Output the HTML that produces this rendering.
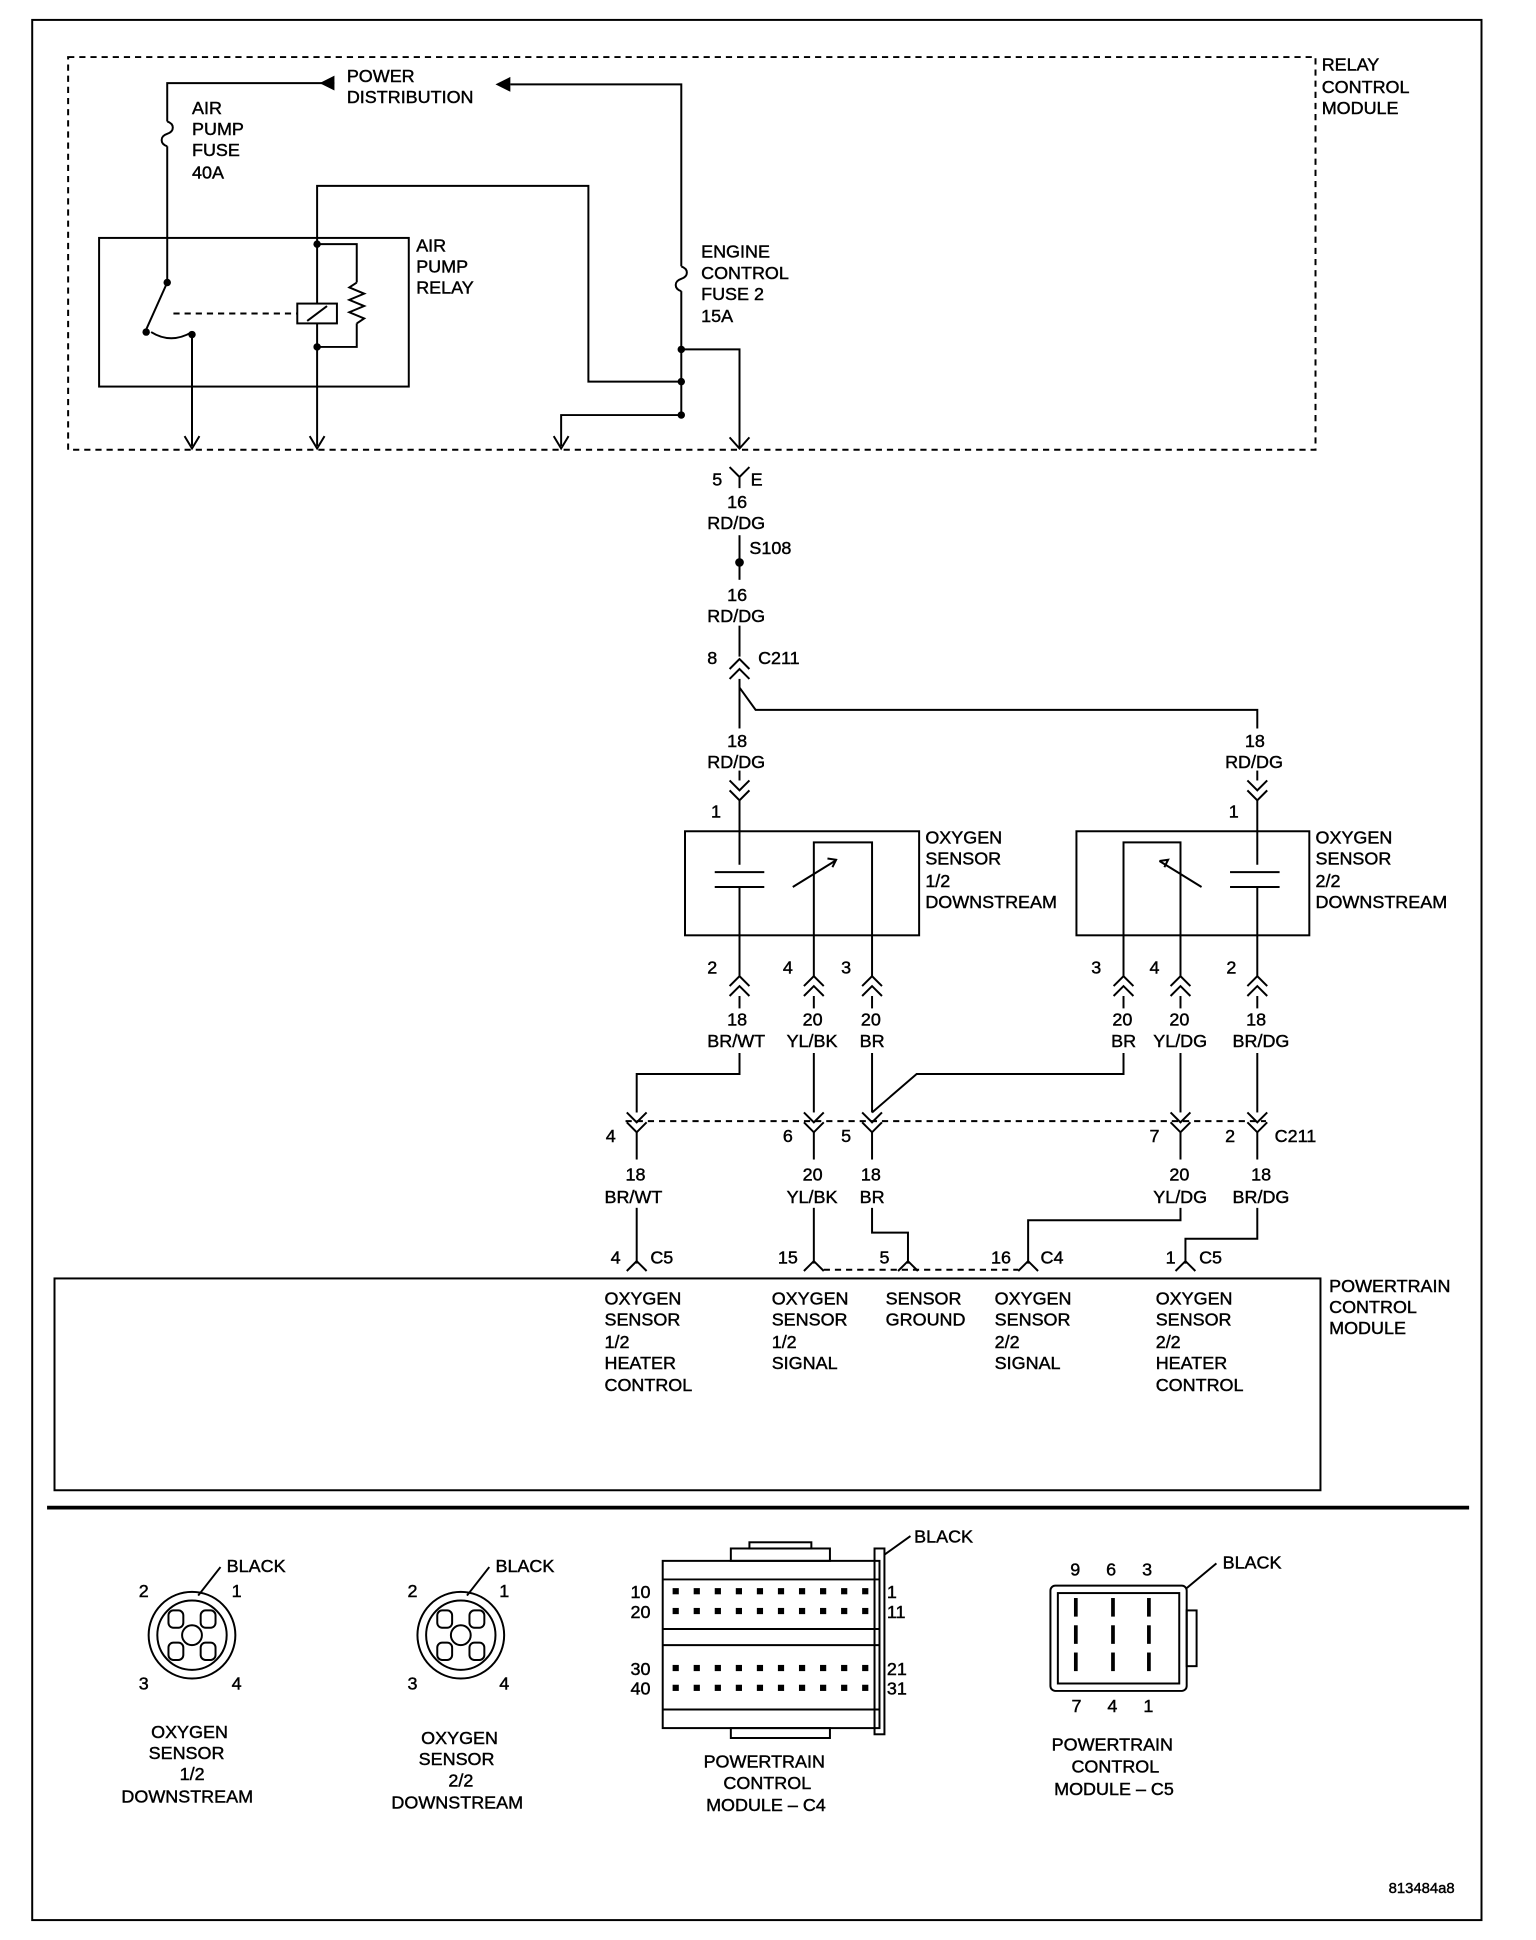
<!DOCTYPE html>
<html><head><meta charset="utf-8"><style>
html,body{margin:0;padding:0;background:#fff;}
svg{display:block;}
text{font-family:"Liberation Sans",Arial,sans-serif;font-size:14.5px;fill:#000;stroke:#000;stroke-width:0.35px;}
</style></head><body>
<svg width="1536" height="1940" viewBox="0 0 1240 1566" xmlns="http://www.w3.org/2000/svg">
<g fill="none" stroke="#000" stroke-width="1.6">
<rect x="26" y="16" width="1170" height="1534"/>
<rect x="55" y="46" width="1007" height="317" stroke-dasharray="5,4"/>
<polyline points="270,67 135,67 135,98"/>
<path d="M135,98 c6,2 6,8 0,10 c-6,2 -6,8 0,10"/>
<polyline points="135,118 135,228"/>
<polyline points="412,68 550,68 550,215"/>
<path d="M550,215 c6,2 6,8 0,10 c-6,2 -6,8 0,10"/>
<polyline points="550,235 550,335 453,335 453,360"/>
<rect x="80" y="192" width="250" height="120"/>
<polyline points="256,197 256,150 475,150 475,308 550,308"/>
<line x1="256" y1="197" x2="256" y2="360"/>
<polyline points="256,197 288,197 288,228"/>
<path d="M288,228 l-6,4 l12,5 l-12,5 l12,5 l-12,5 l12,5 l-6,4"/>
<polyline points="288,261 288,280 256,280"/>
<rect x="240" y="245" width="32" height="16" fill="#fff"/>
<line x1="248" y1="259" x2="264" y2="247"/>
<line x1="135" y1="228" x2="118" y2="266"/>
<line x1="140" y1="253" x2="240" y2="253" stroke-dasharray="5,4"/>
<path d="M122,268 q16,10 33,0"/>
<line x1="155" y1="270" x2="155" y2="360"/>
<polyline points="149,352 155,362 161,352"/>
<polyline points="250,352 256,362 262,352"/>
<polyline points="447,352 453,362 459,352"/>
<polyline points="550,282 597,282 597,362"/>
<polyline points="589,353 597,362 605,353"/>
<polyline points="589,377 597,385 605,377"/>
<line x1="597" y1="385" x2="597" y2="394"/>
<line x1="597" y1="432" x2="597" y2="468"/>
<line x1="597" y1="505" x2="597" y2="530"/>
<polyline points="589,540 597,532 605,540"/><polyline points="589,548 597,540 605,548"/>
<polyline points="597,548 597,588"/>
<line x1="597" y1="622" x2="597" y2="630"/>
<polyline points="597,555 610,573 1015,573 1015,588"/>
<line x1="1015" y1="622" x2="1015" y2="630"/>
<polyline points="589,630 597,638 605,630"/><polyline points="589,638 597,646 605,638"/>
<polyline points="1007,630 1015,638 1023,630"/><polyline points="1007,638 1015,646 1023,638"/>
<line x1="597" y1="646" x2="597" y2="698"/>
<line x1="1015" y1="646" x2="1015" y2="698"/>
<rect x="553" y="671" width="189" height="84"/>
<rect x="869" y="671" width="188" height="84"/>
<line x1="577" y1="704" x2="617" y2="704"/><line x1="577" y1="716" x2="617" y2="716"/>
<polyline points="597,716 597,788"/>
<line x1="993" y1="704" x2="1033" y2="704"/><line x1="993" y1="716" x2="1033" y2="716"/>
<line x1="1015" y1="716" x2="1015" y2="788"/>
<polyline points="657,788 657,680 704,680 704,788"/>
<line x1="640" y1="716" x2="674" y2="695"/>
<polyline points="668,693 675,694 672,700"/>
<polyline points="907,788 907,680 953,680 953,788"/>
<line x1="936" y1="695" x2="970" y2="716"/>
<polyline points="936,695 943,694 940,700"/>
<g>
<polyline points="589,796 597,788 605,796"/><polyline points="589,804 597,796 605,804"/>
<polyline points="649,796 657,788 665,796"/><polyline points="649,804 657,796 665,804"/>
<polyline points="696,796 704,788 712,796"/><polyline points="696,804 704,796 712,804"/>
<polyline points="899,796 907,788 915,796"/><polyline points="899,804 907,796 915,804"/>
<polyline points="945,796 953,788 961,796"/><polyline points="945,804 953,796 961,804"/>
<polyline points="1007,796 1015,788 1023,796"/><polyline points="1007,804 1015,796 1023,804"/>
</g>
<line x1="597" y1="804" x2="597" y2="814"/><line x1="657" y1="804" x2="657" y2="814"/>
<line x1="704" y1="804" x2="704" y2="814"/><line x1="907" y1="804" x2="907" y2="814"/>
<line x1="953" y1="804" x2="953" y2="814"/><line x1="1015" y1="804" x2="1015" y2="814"/>
<polyline points="597,850 597,867 514,867 514,898"/>
<line x1="657" y1="850" x2="657" y2="898"/>
<line x1="704" y1="850" x2="704" y2="898"/>
<polyline points="907,850 907,867 740,867 704,898"/>
<line x1="953" y1="850" x2="953" y2="898"/>
<line x1="1015" y1="850" x2="1015" y2="898"/>
<line x1="505" y1="905" x2="1022" y2="905" stroke-dasharray="5,4"/>
<g>
<polyline points="506,898 514,906 522,898"/><polyline points="506,906 514,914 522,906"/>
<polyline points="649,898 657,906 665,898"/><polyline points="649,906 657,914 665,906"/>
<polyline points="696,898 704,906 712,898"/><polyline points="696,906 704,914 712,906"/>
<polyline points="945,898 953,906 961,898"/><polyline points="945,906 953,914 961,906"/>
<polyline points="1007,898 1015,906 1023,898"/><polyline points="1007,906 1015,914 1023,906"/>
</g>
<line x1="514" y1="914" x2="514" y2="936"/><line x1="657" y1="914" x2="657" y2="936"/>
<line x1="704" y1="914" x2="704" y2="936"/><line x1="953" y1="914" x2="953" y2="936"/>
<line x1="1015" y1="914" x2="1015" y2="936"/>
<line x1="514" y1="975" x2="514" y2="1020"/>
<line x1="657" y1="975" x2="657" y2="1020"/>
<polyline points="704,975 704,995 733,995 733,1020"/>
<polyline points="953,975 953,985 830,985 830,1020"/>
<polyline points="1015,975 1015,1000 957,1000 957,1020"/>
<polyline points="506,1026 514,1018 522,1026"/>
<polyline points="649,1026 657,1018 665,1026"/>
<polyline points="725,1026 733,1018 741,1026"/>
<polyline points="822,1026 830,1018 838,1026"/>
<polyline points="949,1026 957,1018 965,1026"/>
<line x1="665" y1="1025" x2="822" y2="1025" stroke-dasharray="5,4"/>
<rect x="44" y="1032" width="1022" height="171"/>
<line x1="38" y1="1217" x2="1186" y2="1217" stroke-width="3"/>
<circle cx="155" cy="1320" r="35"/><circle cx="155" cy="1320" r="28"/>
<circle cx="155" cy="1320" r="8"/>
<rect x="136" y="1300" width="12" height="14" rx="4"/><rect x="162" y="1300" width="12" height="14" rx="4"/>
<rect x="136" y="1326" width="12" height="14" rx="4"/><rect x="162" y="1326" width="12" height="14" rx="4"/>
<line x1="160" y1="1288" x2="178" y2="1265"/>
<circle cx="372" cy="1320" r="35"/><circle cx="372" cy="1320" r="28"/>
<circle cx="372" cy="1320" r="8"/>
<rect x="353" y="1300" width="12" height="14" rx="4"/><rect x="379" y="1300" width="12" height="14" rx="4"/>
<rect x="353" y="1326" width="12" height="14" rx="4"/><rect x="379" y="1326" width="12" height="14" rx="4"/>
<line x1="377" y1="1288" x2="395" y2="1265"/>
<rect x="535" y="1260" width="175" height="135"/>
<rect x="590" y="1250" width="80" height="10"/><rect x="605" y="1245" width="50" height="5"/>
<rect x="590" y="1395" width="80" height="8"/>
<line x1="535" y1="1315" x2="710" y2="1315"/><line x1="535" y1="1328" x2="710" y2="1328"/>
<line x1="535" y1="1275" x2="710" y2="1275"/><line x1="535" y1="1380" x2="710" y2="1380"/>
<rect x="706" y="1250" width="8" height="150"/>
<line x1="714" y1="1255" x2="735" y2="1240"/>
<rect x="848" y="1280" width="110" height="85" rx="4"/>
<rect x="854" y="1286" width="98" height="73"/>
<rect x="958" y="1300" width="8" height="45"/>
<line x1="958" y1="1282" x2="982" y2="1262"/>
</g>
<g fill="#000">
<polygon points="258,67 270,61 270,73"/>
<polygon points="400,68 412,62 412,74"/>
<circle cx="135" cy="228" r="3"/><circle cx="118" cy="268" r="3"/><circle cx="155" cy="270" r="3"/>
<circle cx="256" cy="197" r="3"/><circle cx="256" cy="280" r="3"/>
<circle cx="550" cy="282" r="3"/><circle cx="550" cy="308" r="3"/><circle cx="550" cy="335" r="3"/>
<circle cx="597" cy="454" r="3.5"/>
</g>
<g fill="#000" stroke="none">
<g id="r1">
<rect x="543" y="1282" width="5" height="5"/><rect x="560" y="1282" width="5" height="5"/><rect x="577" y="1282" width="5" height="5"/><rect x="594" y="1282" width="5" height="5"/><rect x="611" y="1282" width="5" height="5"/><rect x="628" y="1282" width="5" height="5"/><rect x="645" y="1282" width="5" height="5"/><rect x="662" y="1282" width="5" height="5"/><rect x="679" y="1282" width="5" height="5"/><rect x="696" y="1282" width="5" height="5"/>
</g>
<use href="#r1" y="16"/><use href="#r1" y="62"/><use href="#r1" y="78"/>
<rect x="867" y="1290" width="3" height="15"/><rect x="897" y="1290" width="3" height="15"/><rect x="926" y="1290" width="3" height="15"/>
<rect x="867" y="1312" width="3" height="15"/><rect x="897" y="1312" width="3" height="15"/><rect x="926" y="1312" width="3" height="15"/>
<rect x="867" y="1334" width="3" height="15"/><rect x="897" y="1334" width="3" height="15"/><rect x="926" y="1334" width="3" height="15"/>
</g>
<g>
<text x="1067" y="57">RELAY</text><text x="1067" y="75">CONTROL</text><text x="1067" y="92">MODULE</text>
<text x="280" y="66">POWER</text><text x="280" y="83">DISTRIBUTION</text>
<text x="155" y="92">AIR</text><text x="155" y="109">PUMP</text><text x="155" y="126">FUSE</text><text x="155" y="144">40A</text>
<text x="336" y="203">AIR</text><text x="336" y="220">PUMP</text><text x="336" y="237">RELAY</text>
<text x="566" y="208">ENGINE</text><text x="566" y="225">CONTROL</text><text x="566" y="242">FUSE 2</text><text x="566" y="260">15A</text>
<text x="575" y="392">5</text><text x="606" y="392">E</text>
<text x="587" y="410">16</text><text x="571" y="427">RD/DG</text>
<text x="605" y="447">S108</text>
<text x="587" y="485">16</text><text x="571" y="502">RD/DG</text>
<text x="571" y="536">8</text><text x="612" y="536">C211</text>
<text x="587" y="603">18</text><text x="571" y="620">RD/DG</text>
<text x="1005" y="603">18</text><text x="989" y="620">RD/DG</text>
<text x="574" y="660">1</text><text x="992" y="660">1</text>
<text x="747" y="681">OXYGEN</text><text x="747" y="698">SENSOR</text><text x="747" y="716">1/2</text><text x="747" y="733">DOWNSTREAM</text>
<text x="1062" y="681">OXYGEN</text><text x="1062" y="698">SENSOR</text><text x="1062" y="716">2/2</text><text x="1062" y="733">DOWNSTREAM</text>
<text x="571" y="786">2</text><text x="632" y="786">4</text><text x="679" y="786">3</text>
<text x="881" y="786">3</text><text x="928" y="786">4</text><text x="990" y="786">2</text>
<text x="587" y="828">18</text><text x="571" y="845">BR/WT</text>
<text x="648" y="828">20</text><text x="635" y="845">YL/BK</text>
<text x="695" y="828">20</text><text x="694" y="845">BR</text>
<text x="898" y="828">20</text><text x="897" y="845">BR</text>
<text x="944" y="828">20</text><text x="931" y="845">YL/DG</text>
<text x="1006" y="828">18</text><text x="995" y="845">BR/DG</text>
<text x="489" y="922">4</text><text x="632" y="922">6</text><text x="679" y="922">5</text>
<text x="928" y="922">7</text><text x="989" y="922">2</text><text x="1029" y="922">C211</text>
<text x="505" y="953">18</text><text x="488" y="971">BR/WT</text>
<text x="648" y="953">20</text><text x="635" y="971">YL/BK</text>
<text x="695" y="953">18</text><text x="694" y="971">BR</text>
<text x="944" y="953">20</text><text x="931" y="971">YL/DG</text>
<text x="1010" y="953">18</text><text x="995" y="971">BR/DG</text>
<text x="493" y="1020">4</text><text x="525" y="1020">C5</text>
<text x="628" y="1020">15</text><text x="710" y="1020">5</text>
<text x="800" y="1020">16</text><text x="840" y="1020">C4</text>
<text x="941" y="1020">1</text><text x="968" y="1020">C5</text>
<text x="1073" y="1043">POWERTRAIN</text><text x="1073" y="1060">CONTROL</text><text x="1073" y="1077">MODULE</text>
<text x="488" y="1053">OXYGEN</text><text x="488" y="1070">SENSOR</text><text x="488" y="1088">1/2</text><text x="488" y="1105">HEATER</text><text x="488" y="1123">CONTROL</text>
<text x="623" y="1053">OXYGEN</text><text x="623" y="1070">SENSOR</text><text x="623" y="1088">1/2</text><text x="623" y="1105">SIGNAL</text>
<text x="715" y="1053">SENSOR</text><text x="715" y="1070">GROUND</text>
<text x="803" y="1053">OXYGEN</text><text x="803" y="1070">SENSOR</text><text x="803" y="1088">2/2</text><text x="803" y="1105">SIGNAL</text>
<text x="933" y="1053">OXYGEN</text><text x="933" y="1070">SENSOR</text><text x="933" y="1088">2/2</text><text x="933" y="1105">HEATER</text><text x="933" y="1123">CONTROL</text>
<text x="183" y="1269">BLACK</text><text x="112" y="1289">2</text><text x="187" y="1289">1</text><text x="112" y="1364">3</text><text x="187" y="1364">4</text>
<text x="122" y="1403">OXYGEN</text><text x="120" y="1420">SENSOR</text><text x="145" y="1437">1/2</text><text x="98" y="1455">DOWNSTREAM</text>
<text x="400" y="1269">BLACK</text><text x="329" y="1289">2</text><text x="403" y="1289">1</text><text x="329" y="1364">3</text><text x="403" y="1364">4</text>
<text x="340" y="1408">OXYGEN</text><text x="338" y="1425">SENSOR</text><text x="362" y="1442">2/2</text><text x="316" y="1460">DOWNSTREAM</text>
<text x="738" y="1245">BLACK</text>
<text x="509" y="1290">10</text><text x="509" y="1306">20</text><text x="509" y="1352">30</text><text x="509" y="1368">40</text>
<text x="716" y="1290">1</text><text x="716" y="1306">11</text><text x="716" y="1352">21</text><text x="716" y="1368">31</text>
<text x="568" y="1427">POWERTRAIN</text><text x="584" y="1444">CONTROL</text><text x="570" y="1462">MODULE – C4</text>
<text x="987" y="1266">BLACK</text>
<text x="864" y="1272">9</text><text x="893" y="1272">6</text><text x="922" y="1272">3</text>
<text x="865" y="1382">7</text><text x="894" y="1382">4</text><text x="923" y="1382">1</text>
<text x="849" y="1413">POWERTRAIN</text><text x="865" y="1431">CONTROL</text><text x="851" y="1449">MODULE – C5</text>
<text x="1121" y="1528" style="font-size:12px">813484a8</text>
</g>
</svg>
</body></html>
